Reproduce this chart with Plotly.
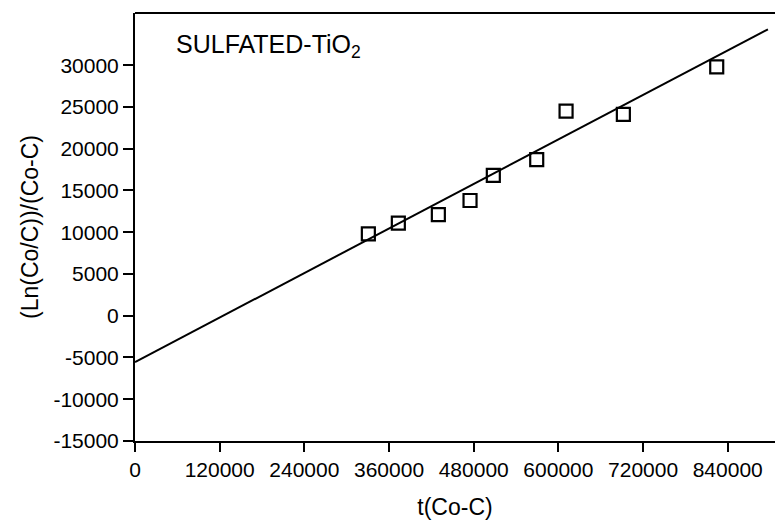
import plotly.graph_objects as go

# data points
t_vals = [330700, 373200, 429900, 474800, 507800, 569300, 610900, 692100, 824400]
ln_vals = [9800, 11100, 12100, 13800, 16800, 18700, 24500, 24100, 29800]

# fitted straight line endpoints
fit_x = [0, 897000]
fit_y = [-5550, 34300]

x_ticks = [0, 120000, 240000, 360000, 480000, 600000, 720000, 840000]
y_ticks = [-15000, -10000, -5000, 0, 5000, 10000, 15000, 20000, 25000, 30000]

FONT = "Liberation Sans, Arial, sans-serif"

fig = go.Figure()
fig.add_trace(go.Scatter(x=fit_x, y=fit_y, mode="lines",
                         line=dict(color="black", width=2), showlegend=False))
fig.add_trace(go.Scatter(x=t_vals, y=ln_vals, mode="markers",
                         marker=dict(symbol="square-open", size=13, color="black",
                                     line=dict(color="black", width=2.2)),
                         showlegend=False))

fig.update_layout(
    width=775, height=520,
    margin=dict(l=135, r=0, t=13, b=79),
    paper_bgcolor="white", plot_bgcolor="white",
    font=dict(family=FONT, color="black", size=21),
    xaxis=dict(range=[0, 907000], tickvals=x_ticks, ticktext=[str(v) for v in x_ticks],
               showline=True, linecolor="black", linewidth=2, ticks="outside",
               ticklen=9, tickwidth=2, tickcolor="black", showgrid=False, zeroline=False,
               tickfont=dict(size=21),
               title=dict(text="t(Co-C)", font=dict(size=23), standoff=22)),
    yaxis=dict(range=[-15000, 36250], tickvals=y_ticks, ticktext=[str(v) for v in y_ticks],
               showline=True, linecolor="black", linewidth=2, ticks="outside",
               ticklen=10, tickwidth=2, tickcolor="black", showgrid=False, zeroline=False,
               tickfont=dict(size=21),
               title=dict(text="(Ln(Co/C))/(Co-C)", font=dict(size=23), standoff=8)),
    shapes=[dict(type="line", xref="paper", yref="paper", x0=0, x1=1, y0=1, y1=1,
                 line=dict(color="black", width=2))],
    annotations=[dict(text="SULFATED-TiO<sub>2</sub>", xref="paper", yref="paper",
                      x=(174 - 135) / 640, y=(441 - 46) / 428, xanchor="left", yanchor="middle",
                      showarrow=False, font=dict(size=25, family=FONT))],
)

fig.write_html("out.html")
